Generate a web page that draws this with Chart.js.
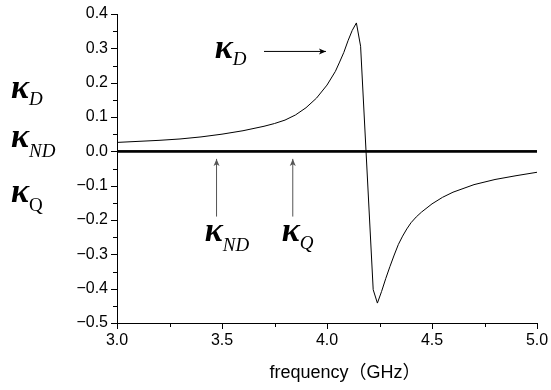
<!DOCTYPE html>
<html>
<head>
<meta charset="utf-8">
<script src="https://cdn.jsdelivr.net/npm/chart.js@4"></script>
<style>
html,body{margin:0;padding:0;background:#fff;}
#wrap{width:551px;height:390px;position:relative;}
</style>
</head>
<body>
<div id="wrap"><canvas id="c" width="551" height="390"></canvas></div>
<script>
// frequency (GHz)
const freq = [3.0,3.1,3.2,3.3,3.4,3.5,3.6,3.7,3.75,3.8,3.85,3.9,3.95,4.0,4.04,4.06,4.08,4.10,4.12,4.14,4.16,4.22,4.24,4.26,4.28,4.30,4.32,4.34,4.36,4.38,4.40,4.425,4.45,4.5,4.55,4.6,4.7,4.8,4.9,5.0];
// kappa_D values
const kappaD = [0.026,0.029,0.032,0.036,0.042,0.050,0.060,0.073,0.081,0.091,0.106,0.127,0.155,0.193,0.233,0.260,0.288,0.322,0.352,0.374,0.306,-0.403,-0.442,-0.408,-0.370,-0.335,-0.302,-0.271,-0.247,-0.226,-0.208,-0.191,-0.177,-0.153,-0.134,-0.119,-0.097,-0.082,-0.071,-0.061];
// kappa_ND and kappa_Q (both zero across the band)
const freqFlat = [3.0,5.0];
const kappaND = [0,0];
const kappaQ = [0,0];
// axis ticks
const xTicks = [3.0,3.5,4.0,4.5,5.0];
const yTicks = [0.4,0.3,0.2,0.1,0.0,-0.1,-0.2,-0.3,-0.4,-0.5];

const pts = (xs, ys) => xs.map((x,i)=>({x:x,y:ys[i]}));

const serifFam = '"Liberation Serif","DejaVu Serif",serif';

function kappaLabel(ctx, x, y, sub, subItalic, subDx, subDy){
  ctx.save();
  ctx.fillStyle = '#000';
  ctx.textAlign = 'left';
  ctx.textBaseline = 'alphabetic';
  ctx.font = 'italic bold 34px ' + serifFam;
  ctx.fillText('\u03BA', x, y);
  const w = ctx.measureText('\u03BA').width;
  ctx.font = (subItalic ? 'italic ' : '') + '19px ' + serifFam;
  ctx.fillText(sub, x + w + subDx, y + subDy);
  ctx.restore();
}
function arrow(ctx, x1, y1, x2, y2, color){
  ctx.save();
  ctx.strokeStyle = color; ctx.fillStyle = color; ctx.lineWidth = 1;
  ctx.beginPath(); ctx.moveTo(x1,y1); ctx.lineTo(x2,y2); ctx.stroke();
  const a = Math.atan2(y2-y1, x2-x1), L = 7, H = 3;
  ctx.beginPath();
  ctx.moveTo(x2,y2);
  ctx.lineTo(x2 - L*Math.cos(a) + H*Math.sin(a), y2 - L*Math.sin(a) - H*Math.cos(a));
  ctx.lineTo(x2 - L*Math.cos(a)*0.75, y2 - L*Math.sin(a)*0.75);
  ctx.lineTo(x2 - L*Math.cos(a) - H*Math.sin(a), y2 - L*Math.sin(a) + H*Math.cos(a));
  ctx.closePath(); ctx.fill();
  ctx.restore();
}

const decor = {
  id: 'decor',
  afterDraw(chart){
    const ctx = chart.ctx, xs = chart.scales.x, ys = chart.scales.y;
    ctx.save();
    ctx.strokeStyle = '#000'; ctx.lineWidth = 1;
    // x tick marks (major 0.5, minor 0.25)
    for (let i = 0; i <= 8; i++){
      const v = 3 + i*0.25;
      const px = Math.round(xs.getPixelForValue(v)) + 0.5;
      const len = (i % 2 === 0) ? 6 : 4;
      ctx.beginPath(); ctx.moveTo(px, ys.bottom); ctx.lineTo(px, ys.bottom + len); ctx.stroke();
    }
    // y tick marks (major 0.1, minor 0.05)
    for (let i = 0; i <= 18; i++){
      const v = -0.5 + i*0.05;
      const py = Math.round(ys.getPixelForValue(v)) + 0.5;
      const len = (i % 2 === 0) ? 6 : 4;
      ctx.beginPath(); ctx.moveTo(xs.left, py); ctx.lineTo(xs.left - len, py); ctx.stroke();
    }
    ctx.restore();

    // left-side legend labels
    kappaLabel(ctx, 11, 98, 'D', true, 0, 7);
    kappaLabel(ctx, 11, 147, 'ND', true, 0, 10);
    kappaLabel(ctx, 11, 202, 'Q', false, 0, 9);

    // in-plot annotations
    kappaLabel(ctx, xs.getPixelForValue(3.466), ys.getPixelForValue(0.273), 'D', true, 0, 7);
    arrow(ctx, xs.getPixelForValue(3.70), ys.getPixelForValue(0.291), xs.getPixelForValue(3.995), ys.getPixelForValue(0.291), '#000');

    kappaLabel(ctx, xs.getPixelForValue(3.418), ys.getPixelForValue(-0.262), 'ND', true, 0, 10);
    kappaLabel(ctx, xs.getPixelForValue(3.785), ys.getPixelForValue(-0.262), 'Q', true, 0, 8);
    arrow(ctx, xs.getPixelForValue(3.474), ys.getPixelForValue(-0.19), xs.getPixelForValue(3.474), ys.getPixelForValue(-0.022), '#555');
    arrow(ctx, xs.getPixelForValue(3.837), ys.getPixelForValue(-0.19), xs.getPixelForValue(3.837), ys.getPixelForValue(-0.022), '#555');
  }
};

const fmt = v => {
  const s = Math.abs(v).toFixed(1);
  return (v < -1e-9 ? '\u2212' : '') + s;
};

new Chart(document.getElementById('c'), {
  type: 'line',
  data: {
    datasets: [
      { label: '\u03BA_ND', data: pts(freqFlat, kappaND), borderColor: '#000', borderWidth: 2.2, pointRadius: 0, tension: 0 },
      { label: '\u03BA_Q', data: pts(freqFlat, kappaQ), borderColor: '#000', borderWidth: 2.2, pointRadius: 0, tension: 0 },
      { label: '\u03BA_D', data: pts(freq, kappaD), borderColor: '#000', borderWidth: 1, pointRadius: 0, tension: 0 }
    ]
  },
  options: {
    responsive: false,
    animation: false,
    devicePixelRatio: 1,
    layout: { padding: { left: 0, right: 14, top: 14, bottom: 0 } },
    plugins: { legend: { display: false }, tooltip: { enabled: false } },
    scales: {
      x: {
        type: 'linear', min: 3, max: 5,
        afterBuildTicks: s => { s.ticks = xTicks.map(v => ({value: v})); },
        afterFit: s => { s.height = 67; s.paddingLeft = 0; s.paddingRight = 0; },
        grid: { display: false, drawTicks: false },
        border: { display: true, color: '#000', width: 1 },
        ticks: { color: '#000', padding: 8, maxRotation: 0, autoSkip: false,
                 font: { family: '"Liberation Sans",Arial,sans-serif', size: 16 },
                 callback: v => fmt(v) },
        title: { display: true, text: '\u2003\u2003frequency\uFF08GHz\uFF09', color: '#000',
                 font: { family: '"Liberation Sans","Noto Sans CJK JP",sans-serif', size: 18 },
                 padding: { top: 0, bottom: 6 } }
      },
      y: {
        type: 'linear', min: -0.5, max: 0.4,
        afterBuildTicks: s => { s.ticks = yTicks.map(v => ({value: v})); },
        afterFit: s => { s.width = 117; s.paddingTop = 0; s.paddingBottom = 0; },
        grid: { display: false, drawTicks: false },
        border: { display: true, color: '#000', width: 1 },
        ticks: { color: '#000', padding: 9, autoSkip: false,
                 font: { family: '"Liberation Sans",Arial,sans-serif', size: 16 },
                 callback: v => fmt(v) }
      }
    }
  },
  plugins: [decor]
});
</script>
</body>
</html>
